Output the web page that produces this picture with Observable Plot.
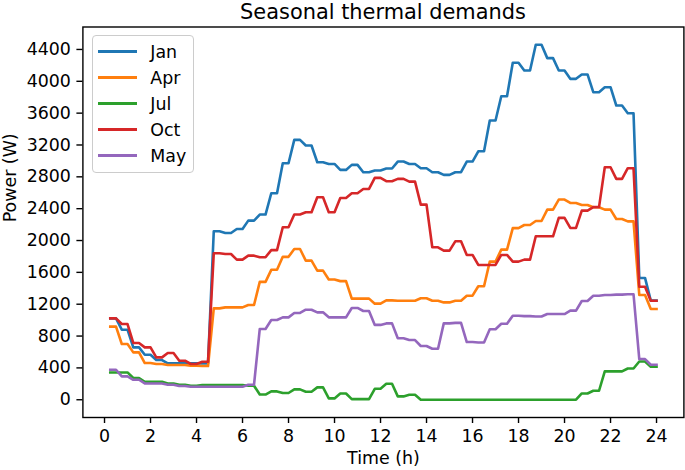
<!DOCTYPE html>
<html>
<head>
<meta charset="utf-8">
<script src="https://cdn.jsdelivr.net/npm/d3@7"></script>
<script src="https://cdn.jsdelivr.net/npm/@observablehq/plot@0.6"></script>
<style>
  html, body { margin: 0; padding: 0; background: white; }
  #wrap { position: relative; width: 685px; height: 470px; overflow: hidden; font-family: "DejaVu Sans", sans-serif; }
  #title { width: 685px; height: 24px; box-sizing: border-box; padding-left: 81px; text-align: center; font-size: 20.9px; line-height: 24px; color: black; white-space: nowrap; }
  #legend { position: absolute; left: 91.5px; top: 35px; width: 102.5px; height: 138px; box-sizing: border-box; border: 1px solid #cccccc; border-radius: 4px; background: rgba(255,255,255,0.8); }
  .lg-line { position: absolute; left: 5.5px; width: 38.6px; height: 2.6px; }
  .lg-text { position: absolute; left: 57.8px; height: 26px; line-height: 26px; font-size: 17.4px; color: black; white-space: nowrap; }
</style>
</head>
<body>
<div id="wrap">
  <div id="title">Seasonal thermal demands</div>
  <div id="chart"></div>
  <div id="legend"></div>
</div>
<script>
// Time of day (h), 15-minute steps
const hours = [0.25,0.5,0.75,1,1.25,1.5,1.75,2,2.25,2.5,2.75,3,3.25,3.5,3.75,4,4.25,4.5,4.75,5,5.25,5.5,5.75,6,6.25,6.5,6.75,7,7.25,7.5,7.75,8,8.25,8.5,8.75,9,9.25,9.5,9.75,10,10.25,10.5,10.75,11,11.25,11.5,11.75,12,12.25,12.5,12.75,13,13.25,13.5,13.75,14,14.25,14.5,14.75,15,15.25,15.5,15.75,16,16.25,16.5,16.75,17,17.25,17.5,17.75,18,18.25,18.5,18.75,19,19.25,19.5,19.75,20,20.25,20.5,20.75,21,21.25,21.5,21.75,22,22.25,22.5,22.75,23,23.25,23.5,23.75,24];

const seriesNames = ["Jan", "Apr", "Jul", "Oct", "May"];
const seriesColors = ["#1f77b4", "#ff7f0e", "#2ca02c", "#d62728", "#9467bd"];

const jan = [1022,1022,880,880,658,658,566,566,499,499,457,457,457,457,457,457,457,457,2116,2116,2095,2095,2145,2145,2250,2250,2326,2326,2594,2594,2970,2970,3264,3264,3193,3193,2983,2983,2962,2962,2887,2887,2950,2950,2857,2857,2879,2879,2905,2905,2992,2992,2962,2962,2908,2908,2858,2858,2824,2824,2858,2858,2992,2992,3121,3121,3507,3507,3813,3813,4233,4233,4136,4136,4459,4459,4291,4291,4136,4136,4031,4031,4086,4086,3863,3863,3926,3926,3696,3696,3599,3599,1530,1530,1245,1245];
const apr = [918,918,700,700,595,595,461,461,449,449,436,436,436,436,427,427,423,423,1148,1148,1160,1160,1160,1160,1190,1190,1480,1480,1632,1632,1795,1795,1894,1894,1747,1747,1622,1622,1510,1510,1490,1490,1270,1270,1270,1270,1207,1207,1248,1248,1244,1244,1244,1244,1274,1274,1244,1244,1223,1223,1244,1244,1307,1307,1425,1425,1735,1735,1886,1886,2156,2156,2195,2195,2245,2245,2388,2388,2515,2515,2472,2472,2447,2447,2417,2417,2388,2388,2271,2271,2241,2241,1316,1316,1140,1140];
const jul = [343,343,343,343,273,273,226,226,226,226,205,205,189,189,176,176,185,185,185,185,185,185,185,185,176,176,65,65,105,105,85,85,130,130,100,100,155,155,17,17,79,79,8,8,8,8,138,138,200,200,42,42,63,63,0,0,0,0,0,0,0,0,0,0,0,0,0,0,0,0,0,0,0,0,0,0,0,0,0,0,0,0,79,79,113,113,356,356,356,356,392,392,481,481,415,415];
const oct = [1022,1022,951,951,713,713,658,658,532,532,587,587,490,490,449,449,478,478,1840,1840,1830,1830,1760,1760,1810,1810,1790,1790,1880,1880,2166,2166,2326,2326,2355,2355,2543,2543,2355,2355,2535,2535,2594,2594,2648,2648,2787,2787,2745,2745,2774,2774,2740,2740,2451,2451,1915,1915,1873,1873,1990,1990,1819,1819,1693,1693,1693,1693,1819,1819,1735,1735,1760,1760,2053,2053,2053,2053,2284,2284,2158,2158,2376,2376,2420,2420,2920,2920,2774,2774,2908,2908,1420,1420,1244,1244];
const may = [377,377,293,293,251,251,205,205,205,205,189,189,172,172,163,163,163,163,163,163,163,163,163,163,189,189,889,889,1002,1002,1035,1035,1090,1090,1131,1131,1098,1098,1035,1035,1035,1035,1153,1153,1115,1115,940,940,959,959,773,773,750,750,675,675,640,640,959,959,965,965,725,725,720,720,885,885,955,955,1056,1056,1050,1050,1045,1045,1077,1077,1077,1077,1119,1119,1240,1240,1307,1307,1316,1316,1320,1320,1325,1325,511,511,440,440];

const xTicks = [0, 2, 4, 6, 8, 10, 12, 14, 16, 18, 20, 22, 24];
const yTicks = [0, 400, 800, 1200, 1600, 2000, 2400, 2800, 3200, 3600, 4000, 4400];
const xLabel = "Time (h)";
const yLabel = "Power (W)";

const seriesValues = [jan, apr, jul, oct, may];
const rows = seriesNames.flatMap((name, i) =>
  hours.map((h, k) => ({series: name, hour: h, power: seriesValues[i][k]})));

const chart = Plot.plot({
  width: 685,
  height: 446,
  marginLeft: 82.4,
  marginRight: 1.6,
  marginTop: 2.5,
  marginBottom: 53,
  style: {fontFamily: "DejaVu Sans", fontSize: "17.4px", color: "black", background: "white", overflow: "visible"},
  x: {domain: [-0.94, 25.19]},
  y: {domain: [-223, 4682]},
  color: {domain: seriesNames, range: seriesColors},
  marks: [
    Plot.line(rows, {x: "hour", y: "power", z: "series", stroke: "series", strokeWidth: 2.6, strokeLinejoin: "round", strokeLinecap: "square"}),
    Plot.frame({stroke: "black", strokeWidth: 1.4}),
    Plot.axisX({ticks: xTicks, tickSize: 6, tickPadding: 6, tickFormat: "d", label: null, strokeWidth: 1.4, fontSize: 17.4}),
    Plot.axisY({ticks: yTicks, tickSize: 6, tickPadding: 6, tickFormat: "d", label: null, strokeWidth: 1.4, fontSize: 17.4}),
    Plot.text([xLabel], {text: d => d, frameAnchor: "bottom", lineAnchor: "middle", dy: 41, fontSize: 17.4}),
    Plot.text([yLabel], {text: d => d, frameAnchor: "left", lineAnchor: "middle", dx: -72.4, rotate: -90, fontSize: 17.4})
  ]
});
document.getElementById("chart").appendChild(chart);

const legend = document.getElementById("legend");
seriesNames.forEach((name, i) => {
  const line = document.createElement("div");
  line.className = "lg-line";
  line.style.top = (14.4 + 26 * i) + "px";
  line.style.background = seriesColors[i];
  legend.appendChild(line);
  const txt = document.createElement("div");
  txt.className = "lg-text";
  txt.style.top = (2.7 + 26 * i) + "px";
  txt.textContent = name;
  legend.appendChild(txt);
});
</script>
</body>
</html>
